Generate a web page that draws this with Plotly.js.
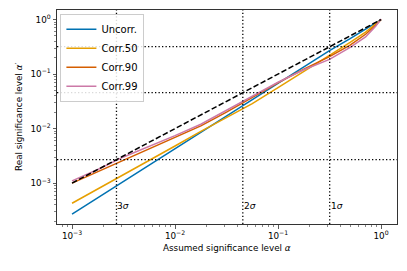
<!DOCTYPE html>
<html>
<head>
<meta charset="utf-8">
<script src="https://cdn.plot.ly/plotly-3.0.1.min.js"></script>
<style>html,body{margin:0;padding:0;background:#fff;}#chart{width:407px;height:271px;}</style>
</head>
<body>
<div id="chart"></div>
<script>
// Assumed significance level alpha (x)
const alphaAssumed = [0.001, 0.00178, 0.00316, 0.00562, 0.01, 0.0178, 0.0316, 0.0562, 0.1, 0.178, 0.316, 0.501, 0.708, 0.891, 1.0];
// Real significance level alpha' for each series
const uncorr = [2.69e-4, 5.37e-4, 1.05e-3, 2.09e-3, 4.17e-3, 8.32e-3, 0.0166, 0.0331, 0.0661, 0.132, 0.269, 0.447, 0.661, 0.871, 1.0];
const corr50 = [4.27e-4, 7.76e-4, 1.41e-3, 2.57e-3, 4.79e-3, 8.91e-3, 0.0158, 0.0288, 0.0562, 0.110, 0.219, 0.380, 0.589, 0.832, 1.0];
const corr90 = [1.0e-3, 1.62e-3, 2.63e-3, 4.27e-3, 6.76e-3, 0.0112, 0.0200, 0.0372, 0.0692, 0.123, 0.209, 0.339, 0.537, 0.794, 1.0];
const corr99 = [1.10e-3, 1.78e-3, 3.02e-3, 4.68e-3, 7.41e-3, 0.0120, 0.0214, 0.0389, 0.0708, 0.120, 0.186, 0.309, 0.479, 0.759, 1.02];
const seriesNames = ["Uncorr.", "Corr.50", "Corr.90", "Corr.99"];
// reference diagonal alpha' = alpha
const diagX = [0.001, 1.0];
const diagY = [0.001, 1.0];
// sigma levels
const sigmaLabels = ["3<i>σ</i>", "2<i>σ</i>", "1<i>σ</i>"];
const sigmaAlpha = [0.0027, 0.0455, 0.3173];
const sigmaLabelY = 2.8e-4;
// tick labels
const tickVals = [0.001, 0.01, 0.1, 1];
const tickTextX = ["10<sup>−3</sup>", "10<sup>−2</sup>", "10<sup>−1</sup>", "10<sup>0</sup>"];
const tickTextY = ["10<sup>−3</sup>", "10<sup>−2</sup>", "10<sup>−1</sup>", "10<sup>0</sup>"];
const xTitle = "Assumed significance level <i>α</i>";
const yTitle = "Real significance level <i>α</i>′";

const colors = ["#0072B2", "#E69F00", "#D55E00", "#CC79A7"];
const seriesY = [uncorr, corr50, corr90, corr99];

const traces = seriesY.map((ys, i) => ({
  x: alphaAssumed, y: ys, type: "scatter", mode: "lines", name: seriesNames[i],
  line: {color: colors[i], width: 1.5}
}));
traces.push({x: diagX, y: diagY, type: "scatter", mode: "lines", showlegend: false,
  line: {color: "#000", width: 1.5, dash: "5.5px,2.4px"}});

const minorVals = [];
for (let e = -4; e <= 0; e++) for (let m = 2; m <= 9; m++) minorVals.push(m * Math.pow(10, e));

const shapes = [];
sigmaAlpha.forEach(a => {
  shapes.push({type: "line", xref: "x", yref: "paper", x0: a, x1: a, y0: 0, y1: 1,
    line: {color: "#000", width: 1.3, dash: "1.3px,2.2px"}, layer: "above"});
  shapes.push({type: "line", xref: "paper", yref: "y", x0: 0, x1: 1, y0: a, y1: a,
    line: {color: "#000", width: 1.3, dash: "1.3px,2.2px"}, layer: "above"});
});

const annotations = sigmaAlpha.map((a, i) => ({
  x: Math.log10(a), y: Math.log10(sigmaLabelY), xref: "x", yref: "y",
  text: sigmaLabels[i], showarrow: false, xanchor: "left", yanchor: "bottom",
  xshift: -1, font: {family: "DejaVu Sans", size: 9, color: "#000"}
}));
annotations.push({xref: "paper", yref: "paper", x: 0.5, y: -0.112, yanchor: "middle", xanchor: "center",
  text: xTitle, showarrow: false, font: {family: "DejaVu Sans", size: 8.8, color: "#000"}});
annotations.push({xref: "paper", yref: "paper", x: -0.112, y: 0.5, yanchor: "middle", xanchor: "center",
  text: yTitle, textangle: -90, showarrow: false, font: {family: "DejaVu Sans", size: 8.8, color: "#000"}});

const axisCommon = {
  type: "log", showgrid: false, zeroline: false, showline: true, mirror: true,
  linecolor: "#333", linewidth: 1, ticks: "outside", ticklen: 3.5, tickwidth: 0.8,
  tickcolor: "#333", tickmode: "array", tickvals: tickVals,
  tickfont: {family: "DejaVu Sans", size: 8.8, color: "#000"},
  minor: {ticks: "outside", ticklen: 2, tickwidth: 0.6, tickcolor: "#333", tickmode: "array", tickvals: minorVals, showgrid: false}
};

const layout = {
  width: 407, height: 271,
  margin: {l: 57, r: 10, t: 10, b: 47},
  paper_bgcolor: "#fff", plot_bgcolor: "#fff",
  font: {family: "DejaVu Sans", size: 8.8, color: "#000"},
  xaxis: Object.assign({}, axisCommon, {range: [-3.146, 0.155], ticktext: tickTextX}),
  yaxis: Object.assign({}, axisCommon, {range: [-3.75, 0.175], ticktext: tickTextY}),
  legend: {x: 0.01, y: 0.983, xanchor: "left", yanchor: "top",
    bgcolor: "rgba(255,255,255,0.85)", bordercolor: "#ccc", borderwidth: 1,
    font: {family: "DejaVu Sans", size: 10}, tracegroupgap: 0, itemwidth: 30},
  shapes: shapes,
  annotations: annotations,
  showlegend: true
};

Plotly.newPlot("chart", traces, layout, {displayModeBar: false, staticPlot: true});
</script>
</body>
</html>
